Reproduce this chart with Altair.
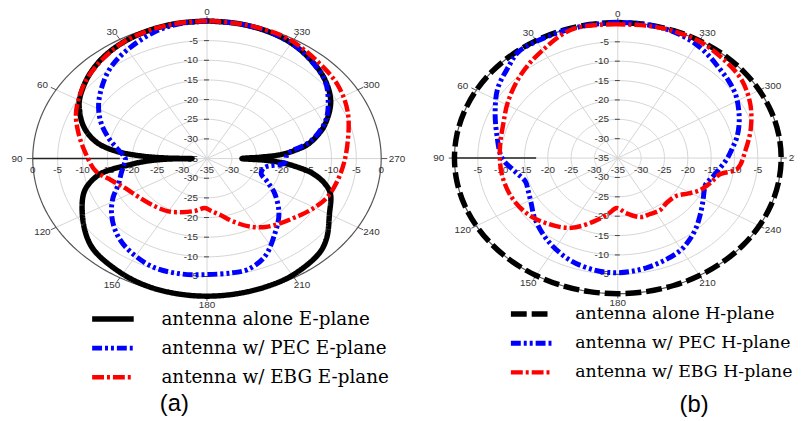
import altair as alt
import pandas as pd
import numpy as np

# ---------------- data (angle: degrees counter-clockwise from top, level: dB) ----------------
E_NAMES = ["antenna alone E-plane", "antenna w/ PEC E-plane", "antenna w/ EBG E-plane"]
H_NAMES = ["antenna alone H-plane", "antenna w/ PEC H-plane", "antenna w/ EBG H-plane"]

E_ALONE_ANG = [0, 10, 20, 30, 40, 50, 60, 65, 70, 75, 80, 84, 87, 89, 90, 91, 93, 96, 100, 105, 110,
               120, 130, 137, 150, 160, 170, 180, 190, 200, 210, 223, 230, 240, 250, 255, 260, 263,
               266, 268, 270, 272, 274, 277, 280, 285, 290, 300, 310, 320, 330, 340, 350, 360]
E_ALONE_DB = [0, -0.1, -0.4, -1.0, -2.0, -3.5, -5.4, -6.8, -8.3, -10.2, -12.8, -16.5, -21.5, -27, -32,
              -27, -23, -19, -13.5, -10.5, -8.6, -6.1, -3.6, -2.3, -1.1, -0.4, -0.1, 0, -0.1, -0.3,
              -0.7, -2.0, -3.6, -6.6, -8.6, -10.5, -13.5, -16.5, -20, -23.5, -28, -24, -20, -17,
              -14.5, -12, -9.8, -6.3, -4.0, -2.4, -1.1, -0.4, -0.1, 0]

E_PEC_ANG = [0, 10, 18, 31, 42, 56, 66, 75, 83, 90, 96, 102, 110, 118, 126, 135, 144, 158, 170, 180,
             190, 196, 205, 216, 226, 237, 244, 251, 259, 266, 274, 282, 292, 302, 310, 320, 330,
             340, 350, 360]
E_PEC_DB = [0, -0.3, -1.1, -3.2, -5.3, -8.8, -11.6, -14.5, -17.1, -18.6, -18.2, -17.4, -16.1, -13.6,
            -11.3, -9.0, -7.2, -5.4, -5.2, -5.5, -5.5, -5.6, -7.5, -11.7, -14.9, -18.8, -21.5, -23.5,
            -23.2, -19.4, -18.8, -13.7, -9.3, -6.3, -4.1, -2.5, -1.1, -0.4, -0.1, 0]

E_EBG_ANG = [0, 10, 20, 30, 40, 50, 59, 67, 76, 87, 98, 106, 115, 125, 140, 150, 160, 170, 178, 184,
             191, 198, 206, 214, 222, 230, 238, 248, 262, 276, 293, 306, 318, 331, 340, 350, 360]
E_EBG_DB = [0, -0.1, -0.4, -1.0, -2.2, -3.5, -5.0, -6.4, -8.4, -10.6, -12.4, -15.0, -17.0, -18.1,
            -19.0, -19.5, -20.5, -21.5, -22.4, -21.6, -20.3, -18.2, -15.8, -14.0, -12.9, -11.8,
            -10.4, -8.9, -7.9, -6.7, -4.3, -2.7, -1.8, -0.5, -0.2, -0.1, 0]

H_ALONE_ANG = [0, 10, 20, 30, 40, 50, 60, 70, 80, 90, 100, 110, 120, 130, 140, 150, 160, 170, 180,
               190, 200, 210, 220, 230, 240, 250, 260, 270, 280, 290, 300, 310, 320, 330, 340, 350, 360]
H_ALONE_DB = [0, 0, 0, 0, 0, 0, 0, 0, 0, 0, 0, 0, 0, 0, 0, 0, 0, 0, 0,
              0, 0, 0, 0, 0, 0, 0, 0, 0, 0, 0, 0, 0, 0, 0, 0, 0, 0]

H_PEC_ANG = [0, 10, 20, 30, 38, 45, 55, 65, 77, 90, 99, 107, 114, 122, 131, 145, 159, 170, 178, 185,
             192, 200, 209, 216, 223, 231, 239, 245, 250, 256, 263, 270, 276, 282, 289, 296, 303,
             310, 317, 324, 330, 337, 344, 352, 360]
H_PEC_DB = [0, -0.1, -0.2, -0.2, -0.3, -1.8, -3.6, -6.0, -8.4, -10.2, -12.7, -14.3, -14.0, -13.1,
            -11.4, -8.9, -6.7, -5.7, -5.4, -5.6, -6.0, -6.7, -7.6, -8.9, -10.4, -12.2, -13.7, -14.6,
            -15.0, -14.2, -13.0, -11.5, -10.3, -8.9, -7.5, -6.2, -4.9, -4.0, -3.2, -2.1, -1.2, -0.5,
            -0.1, 0, 0]

H_EBG_ANG = [0, 16, 31, 44, 58, 70, 84, 99, 114, 127, 138, 151, 163, 172, 179, 187, 198, 205, 214,
             222, 232, 239, 245, 253, 259, 264, 274, 285, 296, 307, 317, 329, 340, 350, 360]
H_EBG_DB = [-0.5, -0.3, -3.0, -5.1, -7.3, -8.9, -9.6, -9.8, -10.1, -10.9, -12.3, -14.4, -18.0, -20.5,
            -22.1, -20.7, -19.0, -19.0, -18.8, -19.4, -19.1, -17.3, -15.5, -14.0, -12.8, -9.2, -7.6,
            -5.5, -3.4, -1.7, -1.0, -0.2, -0.1, -0.3, -0.5]

RING_LEVELS = [-30, -25, -20, -15, -10, -5]
SPOKE_ANGLES = [0, 30, 60, 90, 120, 150, 180, 210, 240, 270, 300, 330]
V_LABELS_TOP = [-5, -10, -15, -20, -25, -30]
V_LABELS_BOTTOM = [-30, -25, -20, -15, -10, -5]
H_LABELS_A = [0, -5, -10, -15, -20, -25, -30]
H_LABELS_B = [-5, -10, -15, -20, -25, -30]

# ---------------- layout ----------------
PANELS = {
    "a": dict(cx=209, cy=158, rx=176, ry=139),
    "b": dict(cx=624, cy=157.5, rx=165, ry=137),
}
XS = alt.Scale(domain=[8, 803], nice=False, zero=False)
YS = alt.Scale(domain=[8, 421], nice=False, zero=False, reverse=True)
LABEL_FONT = "Liberation Sans"
LEGEND_FONT = "DejaVu Serif"
GRID = "#d4d4d4"


def enc_xy():
    return dict(x=alt.X("px:Q", scale=XS, axis=None), y=alt.Y("py:Q", scale=YS, axis=None))


def polar(chart, p, rr="datum.rr", dx=0.0, dy=0.0):
    a = "datum.ang * PI / 180"
    return chart.transform_calculate(
        px=f"{p['cx']} - ({p['rx']} + {dx}) * ({rr}) * sin({a})",
        py=f"{p['cy']} - ({p['ry']} + {dy}) * ({rr}) * cos({a})",
    )


def grid_layers(key, h_labels):
    p = PANELS[key]
    angs = np.arange(0, 362, 2)
    rings = pd.DataFrame([(lv, a) for lv in RING_LEVELS for a in angs], columns=["lv", "ang"])
    rings["rr"] = (rings["lv"] + 35) / 35
    outer = pd.DataFrame({"ang": angs, "rr": 1.0})
    spokes = pd.DataFrame([(a, r) for a in SPOKE_ANGLES for r in (0.0, 1.0)], columns=["ang", "rr"])
    ticks = pd.DataFrame([(a, r) for a in SPOKE_ANGLES for r in (1.0, 1.035)], columns=["ang", "rr"])
    alabels = pd.DataFrame({"ang": SPOKE_ANGLES, "lab": [str(a) for a in SPOKE_ANGLES]})
    vlab = pd.DataFrame({
        "lv": V_LABELS_TOP + [-35] + V_LABELS_BOTTOM,
        "ang": [0] * len(V_LABELS_TOP) + [0] + [180] * len(V_LABELS_BOTTOM),
    })
    vlab["rr"] = (vlab["lv"] + 35) / 35
    vlab["lab"] = vlab["lv"].astype(str)
    hlab = pd.DataFrame({
        "lv": h_labels + [-35] + h_labels[::-1],
        "ang": [90] * len(h_labels) + [90] + [270] * len(h_labels),
    })
    hlab["rr"] = (hlab["lv"] + 35) / 35
    hlab["lab"] = hlab["lv"].astype(str)
    axis90 = pd.DataFrame({"ang": [90, 90], "rr": [1.0, 0.5]})

    layers = []
    layers.append(polar(alt.Chart(rings), p).mark_line(color=GRID, strokeWidth=1).encode(
        **enc_xy(), detail="lv:N", order="ang:Q"))
    layers.append(polar(alt.Chart(spokes), p).mark_line(color=GRID, strokeWidth=1).encode(
        **enc_xy(), detail="ang:N", order="rr:Q"))
    layers.append(polar(alt.Chart(outer), p).mark_line(color="#555555", strokeWidth=1.2).encode(
        **enc_xy(), order="ang:Q"))
    layers.append(polar(alt.Chart(ticks), p).mark_line(color="#555555", strokeWidth=1).encode(
        **enc_xy(), detail="ang:N", order="rr:Q"))
    layers.append(polar(alt.Chart(axis90), p).mark_line(color="#222222", strokeWidth=1.5).encode(
        **enc_xy(), order="rr:Q"))
    layers.append(polar(alt.Chart(alabels), p, rr="1", dx=16, dy=9).mark_text(
        font=LABEL_FONT, fontSize=10, color="#333333", align="center", baseline="middle").encode(
        **enc_xy(), text="lab:N"))
    # vertical radial labels with small ticks
    vl = polar(alt.Chart(vlab), p).transform_calculate(px2=f"{p['cx']} - 9")
    layers.append(vl.mark_text(font=LABEL_FONT, fontSize=10, color="#333333", align="right",
                               baseline="middle").encode(
        x=alt.X("px2:Q", scale=XS, axis=None), y=alt.Y("py:Q", scale=YS, axis=None), text="lab:N"))
    vt = polar(alt.Chart(vlab[vlab["lv"] != -35]), p).transform_calculate(
        tx1=f"{p['cx']} - 3", tx2=f"{p['cx']} + 2")
    layers.append(vt.mark_rule(color="#444444", strokeWidth=1).encode(
        x=alt.X("tx1:Q", scale=XS, axis=None), x2="tx2:Q", y=alt.Y("py:Q", scale=YS, axis=None)))
    # horizontal radial labels
    hl = polar(alt.Chart(hlab), p).transform_calculate(py2=f"{p['cy']} + 12")
    layers.append(hl.mark_text(font=LABEL_FONT, fontSize=10, color="#333333", align="center",
                               baseline="middle").encode(
        x=alt.X("px:Q", scale=XS, axis=None), y=alt.Y("py2:Q", scale=YS, axis=None), text="lab:N"))
    return layers


def curve_layer(key, names, angs, dbs, colors, dashes, widths, lx, ly, loff, fsize):
    p = PANELS[key]
    rows = []
    for n, A, D in zip(names, angs, dbs):
        for a, d in zip(A, D):
            rows.append((n, a, d))
    df = pd.DataFrame(rows, columns=["series", "ang", "db"])
    df["rr"] = ((df["db"] + 35) / 35).clip(lower=0)
    legend = alt.Legend(title=None, orient="none", legendX=lx, legendY=ly, symbolType="stroke",
                        symbolSize=1764, symbolStrokeWidth=4.5, labelFont=LEGEND_FONT,
                        labelFontSize=fsize, labelColor="black", clipHeight=22, rowPadding=7.5,
                        labelOffset=loff, padding=0, labelLimit=400)
    return polar(alt.Chart(df), p).mark_line(interpolate="catmull-rom", strokeCap="butt").encode(
        **enc_xy(),
        order="ang:Q",
        color=alt.Color("series:N", scale=alt.Scale(domain=names, range=colors), legend=legend),
        strokeDash=alt.StrokeDash("series:N", scale=alt.Scale(domain=names, range=dashes),
                                  legend=legend),
        strokeWidth=alt.StrokeWidth("series:N", scale=alt.Scale(domain=names, range=widths),
                                    legend=None),
    )


COLORS = ["#000000", "#0000ff", "#ff0000"]
E_DASH = [[1, 0], [10, 3, 3, 3, 3, 3], [12, 3, 3, 3]]
H_DASH = [[16, 5], [10, 3, 3, 3, 3, 3], [12, 3, 3, 3]]

layers = []
layers += grid_layers("a", H_LABELS_A)
layers += grid_layers("b", H_LABELS_B)

curves_a = curve_layer("a", E_NAMES, [E_ALONE_ANG, E_PEC_ANG, E_EBG_ANG],
                       [E_ALONE_DB, E_PEC_DB, E_EBG_DB], COLORS, E_DASH, [5.5, 4.5, 4.5],
                       82, 301, 25, 18.5)
curves_b = curve_layer("b", H_NAMES, [H_ALONE_ANG, H_PEC_ANG, H_EBG_ANG],
                       [H_ALONE_DB, H_PEC_DB, H_EBG_DB], COLORS, H_DASH, [5.5, 4.5, 4.5],
                       505, 296, 20, 17.5)

tag_a = alt.Chart(pd.DataFrame({"t": ["(a)"]})).mark_text(
    font=LABEL_FONT, fontSize=24, color="black", align="center", baseline="middle").encode(
    x=alt.value(168), y=alt.value(398), text="t:N")
tag_b = alt.Chart(pd.DataFrame({"t": ["(b)"]})).mark_text(
    font=LABEL_FONT, fontSize=24, color="black", align="center", baseline="middle").encode(
    x=alt.value(693), y=alt.value(399), text="t:N")

chart = alt.layer(*layers, curves_a, curves_b, tag_a, tag_b).resolve_scale(
    color="independent", strokeDash="independent", strokeWidth="independent"
).properties(
    width=795, height=413, padding=0, autosize=alt.AutoSizeParams(type="none"),
    background="white",
).configure_view(strokeWidth=0)

chart.save("out.html", embed_options={"renderer": "svg", "actions": False})
